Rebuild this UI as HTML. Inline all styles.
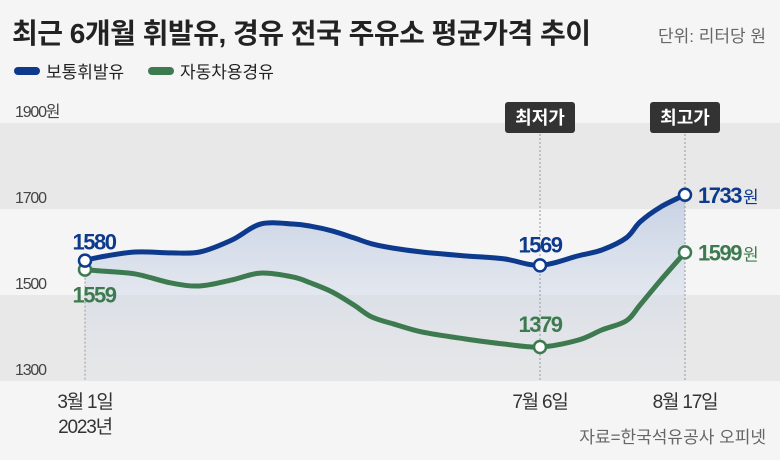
<!DOCTYPE html>
<html><head><meta charset="utf-8"><style>
body{margin:0;width:780px;height:455px;background:#f5f5f5;font-family:"Liberation Sans","Noto Sans CJK KR",sans-serif;overflow:hidden}
svg text{font-family:"Liberation Sans","Noto Sans CJK KR",sans-serif}
</style></head><body>
<svg id="c" width="780" height="455">
<defs><linearGradient id="g" x1="0" y1="0" x2="0" y2="1"><stop offset="0" stop-color="#b8c6e0" stop-opacity="0.75"/><stop offset="1" stop-color="#dde2ea" stop-opacity="0.2"/></linearGradient></defs>
<text x="12" y="43" font-size="28" font-weight="bold" fill="#222" letter-spacing="-0.5">최근 6개월 휘발유, 경유 전국 주유소 평균가격 추이</text>
<text x="766" y="42" font-size="17" fill="#666" text-anchor="end">단위: 리터당 원</text>
<g>
<rect x="14" y="67" width="26" height="8" rx="4" fill="#0d3a8c"/>
<text x="46" y="78" font-size="17" fill="#222">보통휘발유</text>
<rect x="148" y="67" width="26" height="8" rx="4" fill="#3d7a4f"/>
<text x="180" y="78" font-size="17" fill="#222">자동차용경유</text>
</g>
<g id="bands"></g><g id="plot"></g>
<text x="766" y="443" font-size="17" fill="#666" text-anchor="end">자료=한국석유공사 오피넷</text>
</svg>
<script>
const days=[0,4,14,24,32,41,49,58,63,69,75,80,86,94,106,117,127,138,145,152,156,162,169];
const gasoline=[1580,1588,1600,1598,1600,1628,1665,1665,1660,1649,1633,1619,1609,1600,1591,1584,1569,1591,1605,1633,1670,1705,1733];
const diesel=[1559,1556,1549,1528,1521,1535,1551,1542,1528,1507,1477,1449,1433,1414,1398,1386,1379,1395,1419,1440,1477,1535,1599];
const yTicks=[1900,1700,1500,1300];
const yTickLabels=["1900원","1700","1500","1300"];
const markIdx=[0,16,22];
const xLabels=[["3월 1일","2023년"],["7월 6일"],["8월 17일"]];
const NS="http://www.w3.org/2000/svg";
function y(v){return 381-(v-1300)*0.43;}
function x(d){return d<=127?85+d*(455/127):540+(d-127)*(145/42);}
function mk(t,a,p){const e=document.createElementNS(NS,t);for(const k in a)e.setAttribute(k,a[k]);(p||document.getElementById('plot')).appendChild(e);return e;}
function smooth(vals){const P=vals.map((v,i)=>[x(days[i]),y(v)]);let s='M'+P[0];
 for(let i=0;i<P.length-1;i++){const p0=P[i-1]||P[i],p1=P[i],p2=P[i+1],p3=P[i+2]||p2;
  const c1=[p1[0]+(p2[0]-p0[0])/6,p1[1]+(p2[1]-p0[1])/6],c2=[p2[0]-(p3[0]-p1[0])/6,p2[1]-(p3[1]-p1[1])/6];
  s+='C'+c1+' '+c2+' '+p2;}return s;}
const bands=document.getElementById('bands');
[[1900,1700,'#e8e8e8'],[1700,1500,'#f5f5f5'],[1500,1300,'#e8e8e8']].forEach((b,i)=>{
 const r=mk('rect',{x:0,y:y(b[0]),width:780,height:y(b[1])-y(b[0]),fill:b[2]},bands);
 
 
});
yTicks.forEach((v,i)=>{const t=mk('text',{x:15,y:y(v)-6,'font-size':16,fill:'#444','letter-spacing':'-1.2'},bands);t.textContent=yTickLabels[i];
 
 });
const ar=mk('path',{d:smooth(gasoline)+'L'+x(days[days.length-1])+',381L'+x(0)+',381Z',fill:'url(#g)'});


markIdx.forEach((mi,k)=>{const gl=mk('line',{x1:x(days[mi]),x2:x(days[mi]),y1:k==0?y(diesel[mi]):130,y2:381,stroke:'#999','stroke-dasharray':'2,2','stroke-width':1});
 
 
 xLabels[k].forEach((s,j)=>{const t=mk('text',{x:x(days[mi]),y:408+j*25,'font-size':19,fill:'#333','text-anchor':'middle','letter-spacing':'-1.2'});t.textContent=s;
 
 });
});
[['최저가',16],['최고가',22]].forEach(a=>{const cx=x(days[a[1]]);
 const r=mk('rect',{x:cx-35,y:102,width:70,height:31,rx:3,fill:'#333'});
 
 
 const t=mk('text',{x:cx,y:124,'font-size':18,'font-weight':'bold',fill:'#fff','text-anchor':'middle'});t.textContent=a[0];
 
 });
function line(vals,col,name){
 const l=mk('path',{d:smooth(vals),fill:'none',stroke:col,'stroke-width':5,'stroke-linejoin':'round','stroke-linecap':'round'});
 
 }
line(diesel,'#3d7a4f','diesel');line(gasoline,'#0d3a8c','gasoline');
function pts(vals,col,name,pos){markIdx.forEach((mi,k)=>{
 const c=mk('circle',{cx:x(days[mi]),cy:y(vals[mi]),r:6,fill:'#fff',stroke:col,'stroke-width':2.5});
 
 
 let t;
 if(k==2){t=mk('text',{x:x(days[mi])+13,y:y(vals[mi])+8,'font-size':22,'font-weight':'bold',fill:col,'letter-spacing':'-1.5'});
  t.innerHTML=vals[mi]+'<tspan font-size="17" font-weight="normal" dx="2">원</tspan>';}
 else{const dy=pos[k];t=mk('text',{x:x(days[mi])+(k==0?9:0),y:y(vals[mi])+dy,'font-size':22,'font-weight':'bold',fill:col,'text-anchor':'middle','letter-spacing':'-1.5'});t.textContent=vals[mi];}
 
 
});}
pts(diesel,'#3d7a4f','diesel',[33,-15]);pts(gasoline,'#0d3a8c','gasoline',[-11,-13]);
</script>
</body></html>
